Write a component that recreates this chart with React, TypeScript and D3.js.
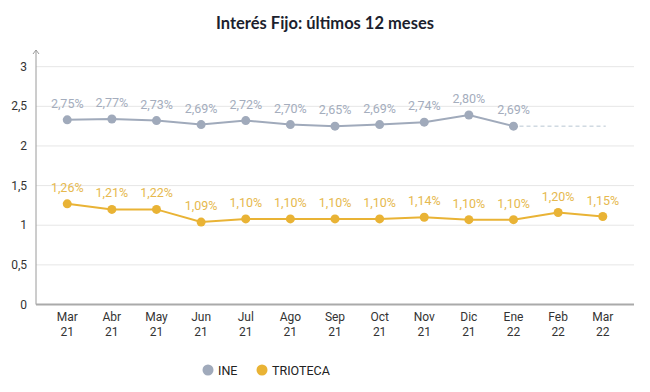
import React, { useEffect, useRef } from 'react';
import * as d3 from 'd3';

const months = ['Mar', 'Abr', 'May', 'Jun', 'Jul', 'Ago', 'Sep', 'Oct', 'Nov', 'Dic', 'Ene', 'Feb', 'Mar'];
const years = ['21', '21', '21', '21', '21', '21', '21', '21', '21', '21', '22', '22', '22'];

// plotted positions (as drawn) and the printed labels
const ineValues = [2.33, 2.34, 2.32, 2.27, 2.32, 2.27, 2.25, 2.27, 2.30, 2.39, 2.25];
const ineLabels = ['2,75%', '2,77%', '2,73%', '2,69%', '2,72%', '2,70%', '2,65%', '2,69%', '2,74%', '2,80%', '2,69%'];
const triValues = [1.27, 1.20, 1.20, 1.04, 1.08, 1.08, 1.08, 1.08, 1.10, 1.07, 1.07, 1.16, 1.11];
const triLabels = ['1,26%', '1,21%', '1,22%', '1,09%', '1,10%', '1,10%', '1,10%', '1,10%', '1,14%', '1,10%', '1,10%', '1,20%', '1,15%'];
const yTicks = [0, 0.5, 1, 1.5, 2, 2.5, 3];

const INE_COLOR = '#a0aabb';
const TRI_COLOR = '#e9b335';

const App: React.FC = () => {
  const svgRef = useRef<SVGSVGElement | null>(null);

  useEffect(() => {
    if (!svgRef.current) return;
    const svg = d3.select(svgRef.current);
    svg.selectAll('*').remove();

    const left = 36;
    const right = 634;
    const keys = months.map((m, i) => `${m} ${years[i]}`);

    const x = d3.scalePoint<string>().domain(keys).range([left, right]).padding(0.7);
    const y = d3.scaleLinear().domain([0, 3]).range([304.5, 66.7]);

    svg.append('text')
      .attr('x', 325).attr('y', 29)
      .attr('text-anchor', 'middle')
      .attr('font-family', 'Lato, sans-serif')
      .attr('font-weight', 'bold')
      .attr('font-size', 16.5)
      .attr('fill', '#1c1f2e')
      .text('Interés Fijo: últimos 12 meses');

    // grid
    svg.append('g').selectAll('line')
      .data(yTicks.filter(d => d > 0))
      .enter().append('line')
      .attr('x1', left).attr('x2', right)
      .attr('y1', d => y(d)).attr('y2', d => y(d))
      .attr('stroke', '#e6e6e6').attr('stroke-width', 1);

    // y tick labels
    svg.append('g').selectAll('text')
      .data(yTicks)
      .enter().append('text')
      .attr('x', 27).attr('y', d => y(d) + 4)
      .attr('text-anchor', 'end')
      .attr('font-family', 'Roboto, sans-serif')
      .attr('font-size', 12)
      .attr('fill', '#333')
      .text(d => String(d).replace('.', ','));

    // axes
    svg.append('line')
      .attr('x1', left).attr('x2', left).attr('y1', 50).attr('y2', y(0))
      .attr('stroke', '#9a9a9a').attr('stroke-width', 1);
    svg.append('path')
      .attr('d', `M${left - 3},${54} L${left},${50} L${left + 3},${54}`)
      .attr('fill', 'none').attr('stroke', '#9a9a9a').attr('stroke-width', 1);
    svg.append('line')
      .attr('x1', left).attr('x2', right).attr('y1', y(0)).attr('y2', y(0))
      .attr('stroke', '#aaaaaa').attr('stroke-width', 2);

    // x labels
    const xl = svg.append('g').selectAll('text')
      .data(keys)
      .enter().append('text')
      .attr('x', d => x(d)!)
      .attr('text-anchor', 'middle')
      .attr('font-family', 'Roboto, sans-serif')
      .attr('font-size', 12)
      .attr('fill', '#333');
    xl.append('tspan').attr('x', d => x(d)!).attr('y', 321).text((d, i) => months[i]);
    xl.append('tspan').attr('x', d => x(d)!).attr('y', 336).text((d, i) => years[i]);

    const line = d3.line<number>()
      .x((d, i) => x(keys[i])!)
      .y(d => y(d));

    const drawSeries = (values: number[], labels: string[], color: string, labelColor: string) => {
      svg.append('path')
        .datum(values)
        .attr('d', line)
        .attr('fill', 'none')
        .attr('stroke', color)
        .attr('stroke-width', 2);
      svg.append('g').selectAll('circle')
        .data(values)
        .enter().append('circle')
        .attr('cx', (d, i) => x(keys[i])!)
        .attr('cy', d => y(d))
        .attr('r', 4.5)
        .attr('fill', color);
      svg.append('g').selectAll('text')
        .data(values)
        .enter().append('text')
        .attr('x', (d, i) => x(keys[i])!)
        .attr('y', d => y(d) - 12)
        .attr('text-anchor', 'middle')
        .attr('font-family', 'Roboto, sans-serif')
        .attr('font-size', 12.5)
        .attr('fill', labelColor)
        .text((d, i) => labels[i]);
    };

    // dashed continuation of INE
    const last = ineValues.length - 1;
    svg.append('line')
      .attr('x1', x(keys[last])! + 6).attr('x2', x(keys[keys.length - 1])! + 3)
      .attr('y1', y(ineValues[last])).attr('y2', y(ineValues[last]))
      .attr('stroke', '#b8c6d2').attr('stroke-width', 1)
      .attr('stroke-dasharray', '4,3');

    drawSeries(ineValues, ineLabels, INE_COLOR, '#a4adbd');
    drawSeries(triValues, triLabels, TRI_COLOR, '#e6b94e');

    // legend
    const legend = [
      { name: 'INE', color: INE_COLOR, x: 208 },
      { name: 'TRIOTECA', color: TRI_COLOR, x: 262 },
    ];
    const lg = svg.append('g').selectAll('g')
      .data(legend)
      .enter().append('g');
    lg.append('circle')
      .attr('cx', d => d.x).attr('cy', 370).attr('r', 5.5)
      .attr('fill', d => d.color);
    lg.append('text')
      .attr('x', d => d.x + 10).attr('y', 375)
      .attr('font-family', 'Roboto, sans-serif')
      .attr('font-size', 12.5)
      .attr('fill', '#222')
      .text(d => d.name);
  }, []);

  return (
    <svg ref={svgRef} width={650} height={392} style={{ position: 'absolute', left: 0, top: 0, background: '#fff' }} />
  );
};

export default App;
